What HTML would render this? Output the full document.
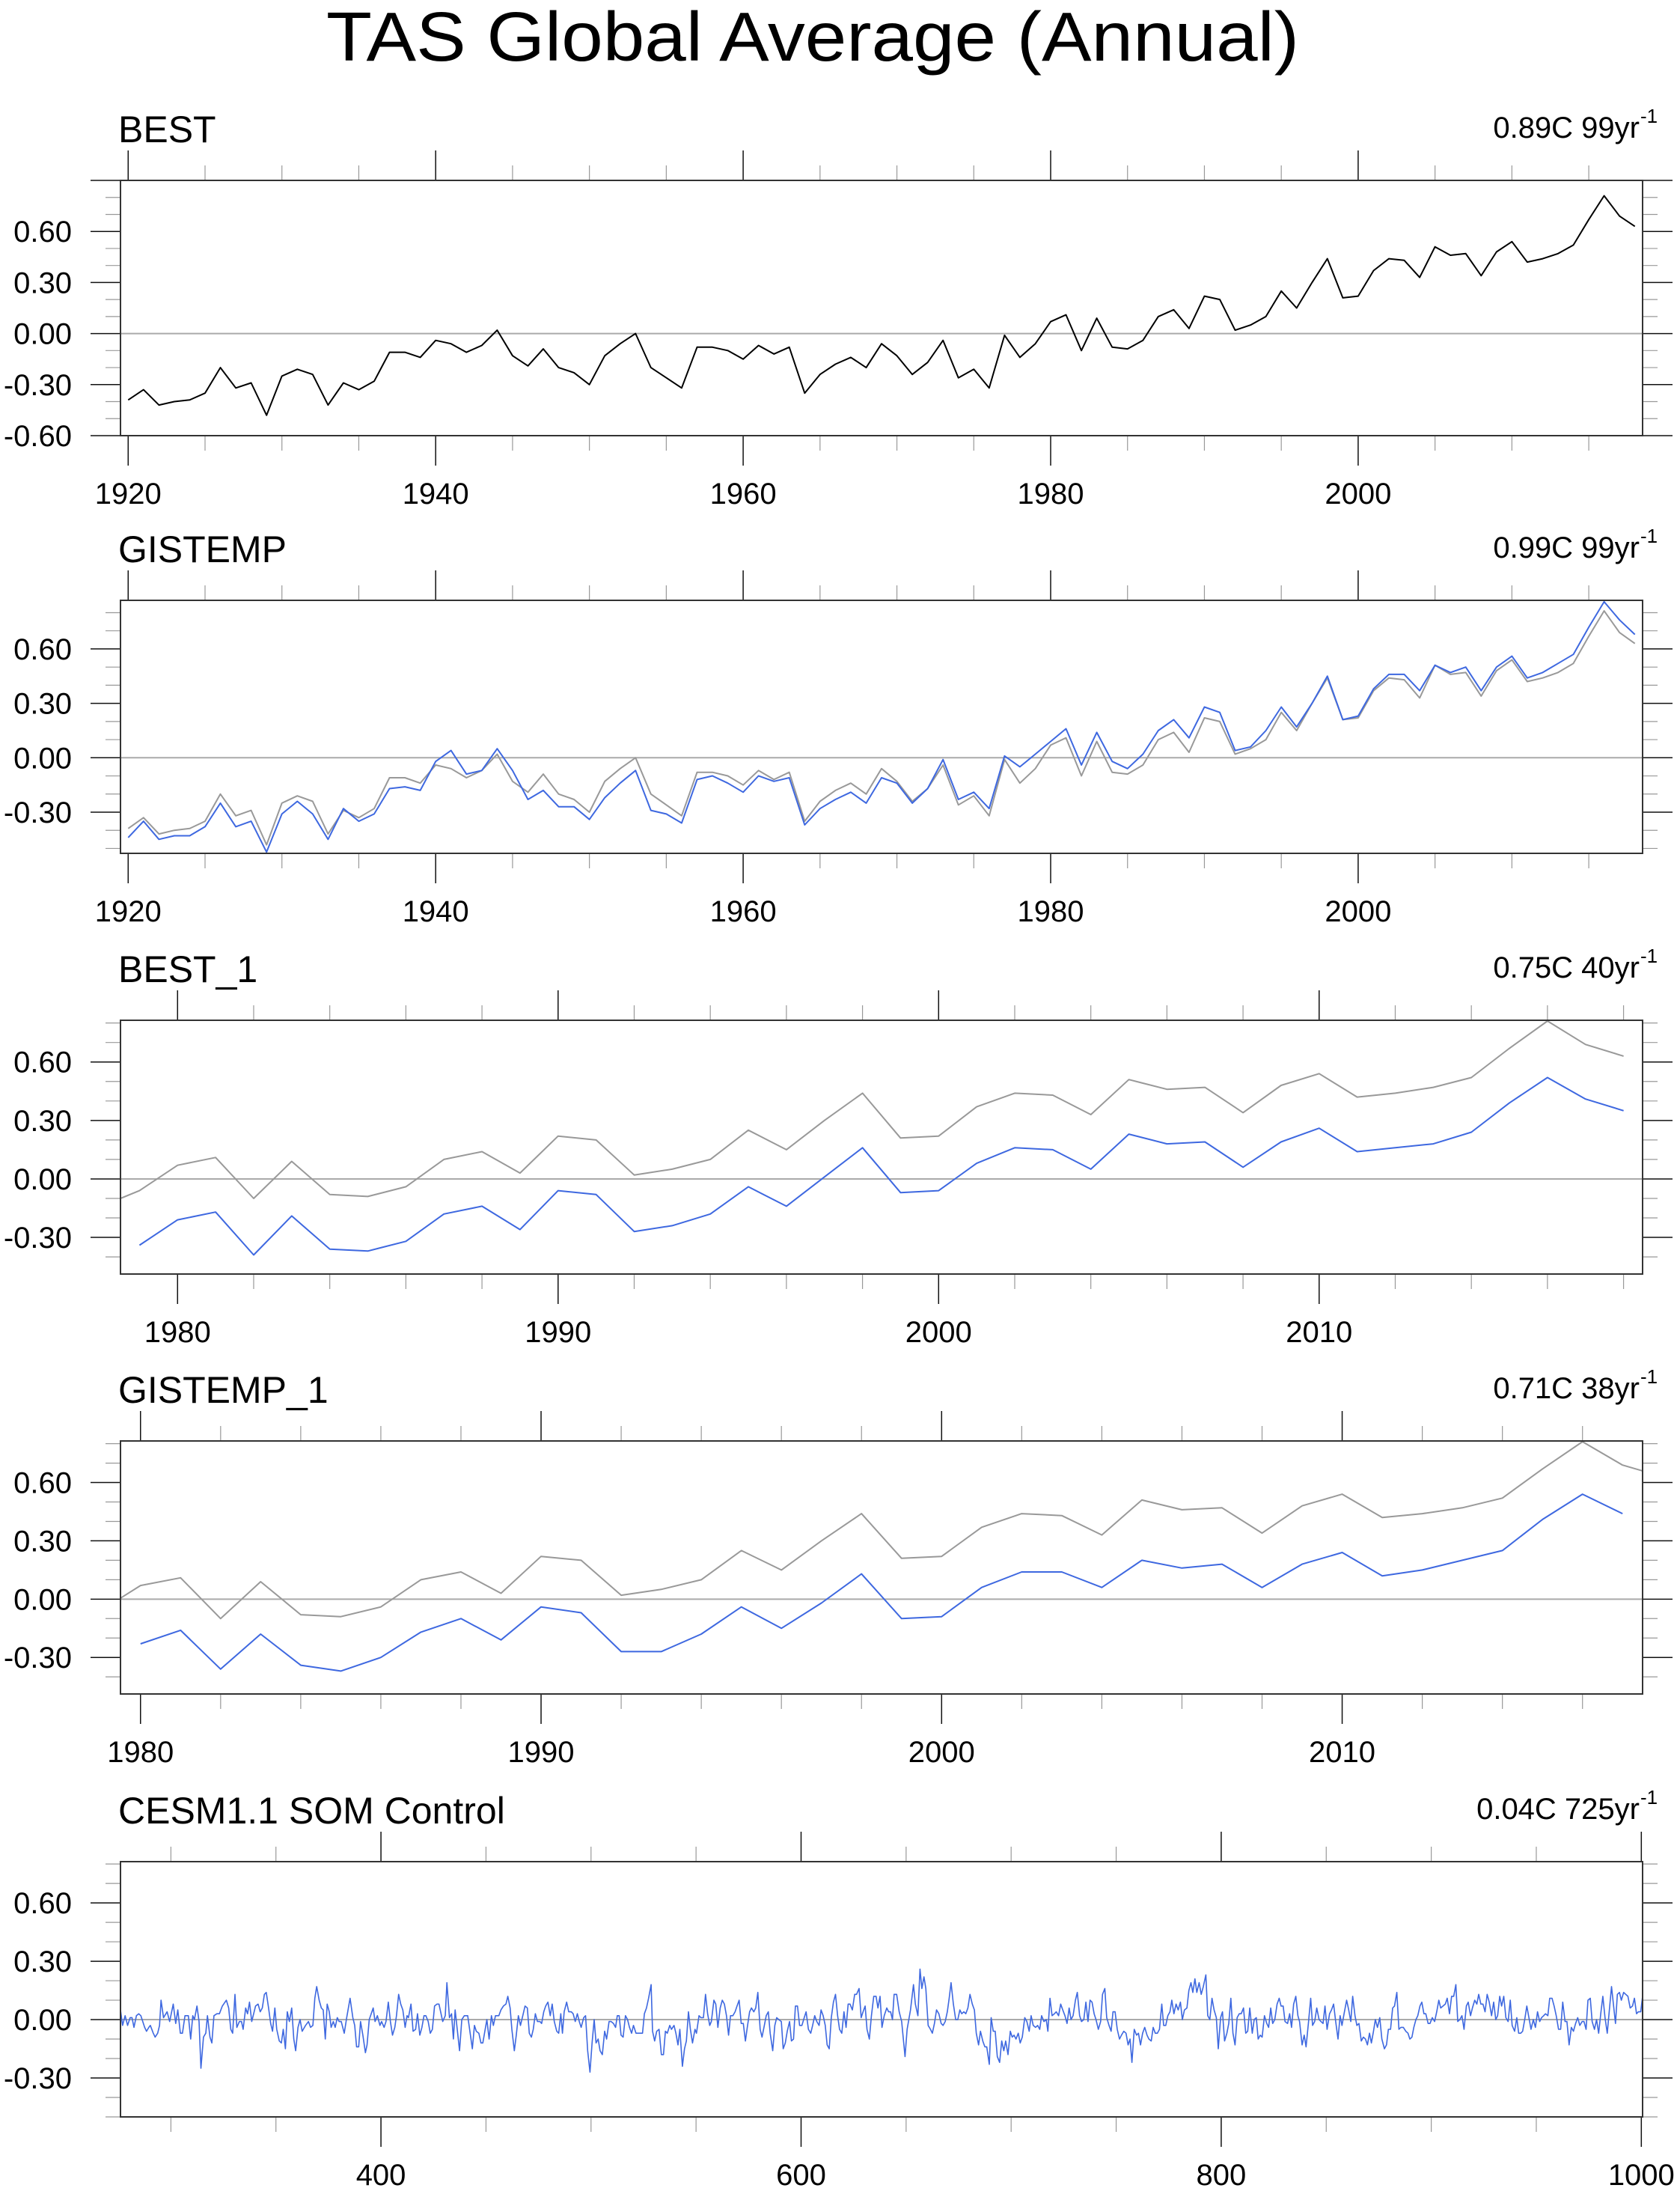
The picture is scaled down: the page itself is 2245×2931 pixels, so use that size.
<!DOCTYPE html>
<html><head><meta charset="utf-8">
<style>
html,body{margin:0;padding:0;background:#fff;}
svg{display:block;font-family:"Liberation Sans",Arial,sans-serif;}
</style></head>
<body>
<svg id="chart" xmlns="http://www.w3.org/2000/svg" width="2245" height="2931" viewBox="0 0 2245 2931">
<rect x="0" y="0" width="2245" height="2931" fill="#fff"/>
<text x="436" y="81" font-size="93" textLength="1300" lengthAdjust="spacingAndGlyphs">TAS Global Average (Annual)</text>
</svg>
<script>
// ---- data ----
const bestStart = 1920;
const bestValues = [
-0.39,-0.33,-0.42,-0.40,-0.39,-0.35,-0.20,-0.32,-0.29,-0.48,
-0.25,-0.21,-0.24,-0.42,-0.29,-0.33,-0.28,-0.11,-0.11,-0.14,
-0.04,-0.06,-0.11,-0.07,0.02,-0.13,-0.19,-0.09,-0.20,-0.23,
-0.30,-0.13,-0.06,0.00,-0.20,-0.26,-0.32,-0.08,-0.08,-0.10,
-0.15,-0.07,-0.12,-0.08,-0.35,-0.24,-0.18,-0.14,-0.20,-0.06,
-0.13,-0.24,-0.17,-0.04,-0.26,-0.21,-0.32,-0.01,-0.14,-0.06,
0.07,0.11,-0.10,0.09,-0.08,-0.09,-0.04,0.10,0.14,0.03,
0.22,0.20,0.02,0.05,0.10,0.25,0.15,0.30,0.44,0.21,
0.22,0.37,0.44,0.43,0.33,0.51,0.46,0.47,0.34,0.48,
0.54,0.42,0.44,0.47,0.52,0.67,0.81,0.69,0.63];
const gisStart = 1920;
const gisValues = [
-0.44,-0.35,-0.45,-0.43,-0.43,-0.38,-0.25,-0.38,-0.35,-0.52,
-0.31,-0.24,-0.31,-0.45,-0.28,-0.35,-0.31,-0.17,-0.16,-0.18,
-0.02,0.04,-0.09,-0.07,0.05,-0.07,-0.23,-0.18,-0.27,-0.27,
-0.34,-0.22,-0.14,-0.07,-0.29,-0.31,-0.36,-0.12,-0.10,-0.14,
-0.19,-0.10,-0.13,-0.11,-0.37,-0.28,-0.23,-0.19,-0.25,-0.11,
-0.14,-0.25,-0.17,-0.01,-0.23,-0.19,-0.28,0.01,-0.05,0.02,
0.09,0.16,-0.04,0.14,-0.02,-0.06,0.02,0.15,0.21,0.11,
0.28,0.25,0.04,0.06,0.15,0.28,0.17,0.30,0.45,0.21,
0.23,0.38,0.46,0.46,0.37,0.51,0.47,0.50,0.37,0.50,
0.56,0.44,0.47,0.52,0.57,0.72,0.86,0.76,0.68];
const best1Start = 1979;
const best1Values = [
-0.34,
-0.21,-0.17,-0.39,-0.19,-0.36,-0.37,-0.32,-0.18,-0.14,-0.26,
-0.06,-0.08,-0.27,-0.24,-0.18,-0.04,-0.14,0.01,0.16,-0.07,
-0.06,0.08,0.16,0.15,0.05,0.23,0.18,0.19,0.06,0.19,
0.26,0.14,0.16,0.18,0.24,0.39,0.52,0.41,0.35];
const gis1Start = 1980;
const gis1Values = [
-0.23,-0.16,-0.36,-0.18,-0.34,-0.37,-0.30,-0.17,-0.10,-0.21,
-0.04,-0.07,-0.27,-0.27,-0.18,-0.04,-0.15,-0.02,0.13,-0.10,
-0.09,0.06,0.14,0.14,0.06,0.20,0.16,0.18,0.06,0.18,
0.24,0.12,0.15,0.20,0.25,0.41,0.54,0.44];
const somYears = [
276,277,278.2,279.4,280.6,281.5,282.4,283.6,284.7,285.7,287.5,288.4,289.5,290.2,291.6,292.5,293.7,294.6,295.3,296.5,298.2,299.4,301.1,302.3,303.3,304.5,305.5,306.7,308.3,309.4,310.4,311.2,312.4,313.4,314.3,315.5,316.6,317.4,318.6,319.5,320.5,321.9,323.1,324.5,326.4,327.5,328.5,329.4,330.5,331.4,332.6,333.6,334.4,335.6,336.5,337.4,338.5,340.3,341.5,342.5,343.5,344.5,345.4,346.5,347.5,348.4,349.5,350.4,351.6,352.6,353.5,354.5,355.4,356.4,357.5,358.5,359.4,360.5,361.5,362.5,364.1,365.5,366.5,367.6,368.5,369.4,370.6,371.6,372.5,373.5,374.4,375.4,376.3,377.3,378.2,379.2,380.1,381.1,382.5,383.7,385.3,386.6,387.5,388.4,389.4,390.3,391.4,392.6,393.4,394.4,396.3,397.2,398.3,399.5,400.3,401.5,402.4,403.5,404.5,405.5,406.6,407.4,408.4,409.4,410.4,411.5,412.4,413.1,414.3,415.3,416.5,417.4,418.5,419.5,420.5,421.4,422.5,423.5,424.5,425.5,426.7,427.6,429.4,430.6,431.4,432.6,433.6,434.5,435.3,437.4,438.5,439.7,441.3,443.5,444.5,445.4,446.6,447.6,448.5,450.4,451.5,452.6,453.5,454.5,456.1,457.1,458.3,459.5,460.4,
461.5,462.3,463.5,464.4,465.4,466.4,467.5,468.6,469.7,470.6,471.6,472.5,473.5,474.5,475.7,476.5,477.5,478.4,479.5,480.6,481.5,482.5,483.7,484.6,485.6,486.4,487.2,488.4,489.4,490.6,491.5,492.5,493.5,494.4,495.3,496.5,497.4,498.4,499.5,500.5,501.5,502.4,503.4,504.3,505.4,506.5,507.4,508.6,509.6,510.7,511.7,512.5,513.4,514.3,515.3,516.4,517.4,518.3,519.3,520.2,521.4,522.6,523.6,524.5,525.4,526.4,527.4,528.6,529.3,530.3,531.3,532.4,533.5,534.5,535.4,536.3,537.5,538.3,539.5,540.4,541.4,542.3,543.5,544.5,545.4,546.4,547.3,548.3,549.5,550.2,551.4,552.3,553.5,554.5,555.5,556.5,557.3,558.5,559.4,560.4,561.5,562.5,563.5,564.5,565.5,566.4,567.5,568.6,569.5,570.5,571.5,572.5,573.5,574.4,575.5,576.4,577.5,578.4,579.4,580.5,581.4,582.5,583.4,584.4,585.3,586.5,587.5,588.4,589.4,590.6,591.5,592.5,593.4,594.5,595.4,596.4,597.3,598.3,599.3,600.4,601.5,602.4,603.5,604.6,605.5,606.5,607.5,608.6,609.5,610.5,611.5,612.4,613.4,614.4,615.4,616.4,617.4,618.3,619.4,620.4,621.4,622.4,623.3,624.4,625.5,626.4,627.6,628.6,629.5,630.5,631.4,632.5,633.5,634.6,635.7,636.6,637.6,638.5,639.6,640.8,641.7,
642.6,643.5,644.3,645.5,646.7,647.9,649.5,650.5,652.1,653.5,654.4,655.6,656.6,657.5,658.5,659.4,660.5,661.6,662.5,663.5,664.5,665.6,666.7,667.6,668.6,669.6,670.5,671.4,672.5,673.6,674.6,675.6,676.5,677.5,678.4,679.4,680.4,681.5,682.5,683.4,684.5,685.4,686.5,687.5,688.4,689.6,690.5,691.5,692.4,693.4,694.5,695.5,696.5,697.4,698.5,699.6,700.5,701.4,702.3,703.4,704.3,705.3,706.5,707.5,708.6,709.5,710.5,711.6,712.6,713.6,714.5,715.6,716.7,717.5,718.5,719.5,720.6,721.5,722.6,723.6,724.6,725.6,726.6,727.6,728.5,729.5,730.6,731.5,732.6,733.5,734.6,735.6,736.6,737.6,738.5,739.5,740.4,741.5,742.6,743.5,744.6,745.5,746.6,747.6,748.5,749.5,750.5,751.6,752.5,753.6,754.7,755.7,756.6,757.5,758.6,759.7,760.6,761.6,762.6,763.6,764.7,765.6,766.7,767.6,768.6,769.6,770.6,771.7,772.6,773.6,774.6,775.6,776.5,777.5,778.5,779.5,780.6,781.5,782.5,783.7,784.6,785.6,786.5,787.5,788.4,789.5,790.5,791.5,792.7,793.6,794.6,795.6,796.6,797.7,798.6,799.7,800.6,801.6,802.7,803.6,804.6,805.6,806.6,807.6,808.6,809.5,810.6,811.7,812.6,813.6,814.8,815.7,816.7,817.6,818.6,819.5,820.6,
821.7,822.6,823.6,824.5,825.5,826.6,827.6,828.5,829.5,830.4,831.6,832.6,833.5,834.5,835.5,836.5,837.3,838.5,839.5,840.4,841.5,842.6,843.5,844.5,845.5,846.6,847.5,848.5,849.4,850.4,851.6,852.5,853.5,854.5,855.6,856.6,857.5,858.5,859.7,860.7,861.7,862.6,863.7,864.6,865.6,866.7,867.7,868.7,869.6,870.6,871.5,872.5,873.4,874.4,875.5,876.5,877.7,878.7,879.6,880.6,881.6,882.5,883.6,884.6,885.5,886.7,887.9,888.9,889.8,890.8,891.7,892.7,893.6,894.6,895.5,896.5,897.4,898.5,899.4,900.5,901.6,902.6,903.6,904.5,905.6,906.7,907.6,908.7,909.7,910.7,911.7,912.6,913.6,914.6,915.6,916.7,917.6,918.7,919.6,920.7,921.7,922.6,923.6,924.6,925.6,926.6,927.6,928.7,929.7,930.7,931.6,932.6,933.5,934.5,935.5,936.6,937.6,938.5,939.7,940.7,941.6,942.6,943.5,944.5,945.5,946.5,947.5,948.6,949.6,950.6,951.6,952.5,953.5,954.4,955.5,956.4,957.5,958.5,959.5,960.6,961.6,962.6,963.7,964.6,965.6,966.7,967.7,968.7,969.7,970.7,971.8,972.7,973.7,974.6,975.7,976.6,977.7,978.7,979.7,980.7,981.7,982.7,983.8,984.7,985.8,986.7,987.7,988.6,989.6,990.5,991.6,992.6,993.6,994.7,995.8,996.7,997.7,998.6,999.7,1000.6];
const somValues = [
0.05,-0.03,0.02,-0.03,0.01,0.01,-0.04,0.02,0.03,0.02,-0.04,-0.06,-0.04,-0.03,-0.07,-0.09,-0.07,-0.03,0.10,0.01,0.04,-0.01,0.08,-0.02,0.05,-0.07,-0.07,0.02,0.02,-0.10,0.02,0.00,0.07,-0.01,-0.25,-0.09,-0.07,0.02,-0.09,-0.12,0.02,0.03,0.03,0.07,0.10,0.06,-0.05,-0.07,0.13,-0.04,-0.01,-0.01,-0.05,0.06,0.03,0.09,-0.01,0.07,0.08,0.04,0.06,0.13,0.14,0.06,-0.02,-0.06,0.06,-0.05,-0.11,-0.12,-0.05,-0.15,0.04,-0.01,0.06,-0.10,-0.16,-0.04,0.00,-0.06,-0.03,-0.01,-0.04,-0.03,0.11,0.17,0.10,0.06,0.05,-0.10,0.08,0.04,-0.04,-0.01,-0.04,0.01,-0.01,-0.01,-0.07,0.01,0.11,0.01,-0.03,-0.14,-0.14,-0.01,-0.08,-0.17,-0.13,0.00,0.06,-0.01,0.02,-0.03,-0.01,-0.04,-0.01,0.09,-0.01,-0.08,-0.04,0.02,0.13,0.08,0.05,-0.04,0.02,0.01,0.08,-0.06,-0.05,0.03,-0.08,-0.04,0.02,0.02,-0.01,-0.07,-0.05,0.07,0.08,0.08,-0.01,0.02,0.19,0.01,0.03,-0.10,0.05,-0.16,0.00,0.02,0.02,-0.15,-0.03,-0.06,-0.07,-0.12,-0.12,0.00,-0.10,0.02,-0.03,0.02,0.02,0.05,0.07,0.08,0.12,
0.06,-0.05,-0.16,-0.08,0.02,-0.03,0.02,0.07,0.06,-0.07,-0.09,-0.05,0.03,-0.01,-0.01,-0.02,0.04,0.07,0.09,0.02,0.08,-0.01,-0.06,-0.07,0.03,-0.07,0.04,0.09,0.04,0.04,0.03,-0.01,0.03,-0.01,-0.04,0.01,0.02,-0.16,-0.27,-0.12,0.00,-0.12,-0.10,-0.16,-0.18,-0.06,-0.10,-0.01,-0.01,-0.02,-0.04,0.02,0.02,-0.08,-0.09,0.02,0.00,-0.04,-0.07,-0.03,-0.07,-0.07,-0.07,-0.07,0.03,0.06,0.11,0.18,-0.06,-0.11,-0.06,-0.05,-0.18,-0.18,-0.06,-0.07,-0.03,-0.05,-0.03,-0.07,-0.13,-0.05,-0.24,-0.15,-0.11,0.04,-0.05,-0.12,-0.05,-0.07,0.02,0.01,0.01,0.13,0.03,-0.03,-0.01,0.10,0.08,-0.04,0.06,0.10,0.08,0.02,-0.08,0.02,0.02,0.04,0.07,0.10,-0.02,-0.02,-0.11,-0.04,0.04,0.06,0.04,0.06,0.14,-0.05,-0.09,-0.03,0.02,0.04,-0.07,-0.16,-0.03,0.01,0.00,-0.01,-0.15,-0.12,-0.06,-0.01,-0.11,-0.10,0.07,0.07,-0.03,-0.03,0.01,0.04,-0.05,-0.07,-0.03,0.02,-0.01,-0.03,0.05,0.02,-0.03,-0.13,-0.15,0.01,0.09,0.13,0.02,-0.05,-0.07,0.04,-0.04,0.08,0.08,0.05,0.13,0.13,0.16,0.01,0.04,0.07,-0.05,-0.10,0.02,0.12,0.12,0.06,0.12,-0.04,0.02,0.06,0.04,
0.04,0.00,0.13,0.13,0.04,-0.01,-0.19,-0.05,0.05,0.18,0.08,0.02,0.26,0.16,0.22,0.16,-0.03,-0.05,-0.07,-0.02,0.05,0.03,-0.02,-0.03,-0.01,0.04,0.11,0.19,0.08,0.00,0.00,0.05,0.03,0.04,0.03,0.06,0.13,0.08,0.05,-0.07,-0.13,-0.06,-0.11,-0.14,-0.14,-0.23,0.01,-0.06,-0.06,-0.19,-0.22,-0.11,-0.16,-0.11,-0.18,-0.06,-0.09,-0.08,-0.10,-0.07,-0.12,-0.09,0.01,-0.01,-0.06,0.02,-0.03,-0.04,-0.03,-0.05,0.02,-0.01,0.00,-0.06,0.11,0.02,0.03,0.04,0.02,0.08,0.05,0.02,-0.02,0.06,0.00,0.02,0.10,0.14,0.02,-0.01,0.00,0.09,-0.01,0.10,0.09,0.03,0.00,-0.05,-0.01,0.13,0.16,0.01,-0.03,-0.06,0.04,0.04,-0.05,-0.10,-0.08,-0.06,-0.07,-0.13,-0.10,-0.22,-0.05,-0.08,-0.07,-0.13,-0.07,-0.04,-0.08,-0.10,-0.11,-0.04,-0.07,-0.07,-0.05,0.08,-0.03,-0.03,0.02,0.04,0.10,0.03,0.08,0.05,0.09,0.00,0.05,0.06,0.15,0.19,0.14,0.21,0.14,0.19,0.13,0.17,0.23,0.02,0.00,0.11,0.05,0.01,-0.15,0.01,0.04,-0.11,-0.07,-0.02,0.11,-0.07,-0.13,0.01,0.03,0.03,0.06,-0.07,-0.06,0.06,-0.07,0.00,0.01,-0.10,-0.08,-0.09,0.02,
-0.02,-0.04,0.06,-0.02,0.00,0.08,0.11,0.07,0.07,-0.01,-0.02,0.03,-0.04,0.08,0.12,0.02,-0.01,-0.13,-0.08,-0.14,-0.02,0.11,-0.03,-0.01,0.06,0.00,-0.01,-0.02,0.07,-0.05,0.03,0.05,0.08,-0.01,-0.10,0.02,-0.03,0.03,0.10,0.05,-0.01,0.12,0.02,-0.03,-0.02,-0.11,-0.09,-0.10,-0.13,-0.07,-0.12,-0.06,0.00,-0.04,0.01,-0.10,-0.15,-0.13,-0.05,-0.05,0.06,0.07,0.14,-0.05,-0.04,-0.04,-0.06,-0.07,-0.10,-0.09,-0.04,0.00,0.02,0.07,0.09,0.03,0.03,-0.02,-0.02,0.01,-0.01,0.04,0.10,0.06,0.07,0.08,0.11,0.03,0.12,0.12,0.18,-0.01,0.00,0.02,-0.05,0.07,0.09,0.02,0.06,0.10,0.08,0.13,0.08,0.08,0.04,0.13,0.09,0.02,0.09,0.00,0.02,0.12,0.07,0.12,0.01,-0.01,0.10,-0.03,-0.06,0.01,-0.07,-0.07,-0.06,0.00,0.07,0.01,-0.05,0.00,-0.04,0.04,-0.01,0.01,0.02,0.03,0.02,0.11,0.11,0.07,0.02,-0.05,-0.05,0.09,-0.01,-0.01,-0.13,-0.04,-0.06,-0.02,0.01,-0.03,-0.01,-0.01,-0.05,0.10,0.11,-0.01,-0.05,0.00,-0.07,0.03,0.12,0.01,-0.07,0.04,0.17,0.08,-0.02,0.13,0.14,0.10,0.14,0.13,0.12,0.06,0.07,0.11,0.03,0.04,0.04,0.12];

// ---- drawing ----
const svg = document.getElementById('chart');
const NS = 'http://www.w3.org/2000/svg';
const BOX_L = 161, BOX_R = 2195;
function seq(start, n){ const a=[]; for(let i=0;i<n;i++) a.push(start+i); return a; }
function el(tag, attrs, parent){ const e=document.createElementNS(NS,tag); for(const k in attrs) e.setAttribute(k, attrs[k]); (parent||svg).appendChild(e); return e; }

const panels = [
 {id:'best', top:241, bot:582, x0:1919.5, x1:2018.5, y0:-0.6, y1:0.9, xMaj:20, xMin:5, title:'BEST', trend:'0.89C 99yr',
  series:[{n:'best-line', x:seq(bestStart,bestValues.length), y:bestValues, c:'#000', w:2}]},
 {id:'gistemp', top:802, bot:1140, x0:1919.5, x1:2018.5, y0:-0.527, y1:0.868, xMaj:20, xMin:5, title:'GISTEMP', trend:'0.99C 99yr',
  series:[{n:'best-reference-line', x:seq(bestStart,bestValues.length), y:bestValues, c:'#999', w:2},
          {n:'gistemp-line', x:seq(gisStart,gisValues.length), y:gisValues, c:'#3e68e0', w:2}]},
 {id:'best-1', top:1363, bot:1702, x0:1978.5, x1:2018.5, y0:-0.488, y1:0.814, xMaj:10, xMin:2, title:'BEST_1', trend:'0.75C 40yr',
  series:[{n:'best-reference-line', x:seq(bestStart,bestValues.length), y:bestValues, c:'#999', w:2},
          {n:'best-1-line', x:seq(best1Start,best1Values.length), y:best1Values, c:'#3e68e0', w:2}]},
 {id:'gistemp-1', top:1925, bot:2263, x0:1979.5, x1:2017.5, y0:-0.488, y1:0.814, xMaj:10, xMin:2, title:'GISTEMP_1', trend:'0.71C 38yr',
  series:[{n:'best-reference-line', x:seq(bestStart,bestValues.length), y:bestValues, c:'#999', w:2},
          {n:'gistemp-1-line', x:seq(gis1Start,gis1Values.length), y:gis1Values, c:'#3e68e0', w:2}]},
 {id:'cesm', top:2487, bot:2828, x0:276, x1:1000.6, y0:-0.5, y1:0.812, xMaj:200, xMin:50, title:'CESM1.1 SOM Control', trend:'0.04C 725yr',
  series:[{n:'cesm-control-line', x:somYears, y:somValues, c:'#3e68e0', w:1.6}]}
];

panels.forEach(function(p, pi){
  const g = el('g', {});
  
  
  const sx = v => BOX_L + (v - p.x0) / (p.x1 - p.x0) * (BOX_R - BOX_L);
  const sy = v => p.bot - (v - p.y0) / (p.y1 - p.y0) * (p.bot - p.top);

  const t = el('text', {x:158, y:p.top-51, 'font-size':50}, g);
  t.textContent = p.title;
  
  
  const tr = el('text', {x:2191, y:p.top-57, 'font-size':40, 'text-anchor':'end'}, g);
  tr.textContent = p.trend;
  
  
  const sup = el('text', {x:2192, y:p.top-77, 'font-size':26}, g);
  sup.textContent = '-1';
  
  

  // x ticks
  const xs = Math.ceil(p.x0 / p.xMin) * p.xMin;
  for (let v = xs; v <= p.x1 + 1e-9; v += p.xMin) {
    const X = sx(v);
    const major = Math.abs(v / p.xMaj - Math.round(v / p.xMaj)) < 1e-6;
    const len = major ? 40 : 20;
    const col = major ? '#111' : '#999';
    const sw = major ? 1.5 : 1.2;
    const tt = el('line', {x1:X, x2:X, y1:p.top, y2:p.top-len, stroke:col, 'stroke-width':sw}, g);
    
    
    const tb = el('line', {x1:X, x2:X, y1:p.bot, y2:p.bot+len, stroke:col, 'stroke-width':sw}, g);
    
    
    if (major) {
      const lb = el('text', {x:X, y:p.bot+91, 'font-size':40, 'text-anchor':'middle'}, g);
      lb.textContent = String(Math.round(v));
      
      
    }
  }
  // y ticks
  const ys = Math.ceil(p.y0 * 10 - 1e-6);
  for (let k = ys; k / 10 <= p.y1 + 1e-6; k++) {
    const v = k / 10, Y = sy(v);
    const major = (k % 3 === 0);
    const len = major ? 40 : 20;
    const col = major ? '#111' : '#999';
    const sw = major ? 1.5 : 1.2;
    const tl = el('line', {x1:BOX_L, x2:BOX_L-len, y1:Y, y2:Y, stroke:col, 'stroke-width':sw}, g);
    
    
    const trr = el('line', {x1:BOX_R, x2:BOX_R+len, y1:Y, y2:Y, stroke:col, 'stroke-width':sw}, g);
    
    
    if (major && v < p.y1 - 0.02) {
      const lb = el('text', {x:96, y:Y+14, 'font-size':40, 'text-anchor':'end'}, g);
      lb.textContent = v.toFixed(2);
      
      
    }
  }
  // zero line
  const z = el('line', {x1:BOX_L, x2:BOX_R, y1:sy(0), y2:sy(0), stroke:'#aaa', 'stroke-width':2}, g);
  
  

  // clip
  const cp = el('clipPath', {id:'clip'+pi}, g);
  el('rect', {x:BOX_L, y:p.top, width:BOX_R-BOX_L, height:p.bot-p.top}, cp);

  p.series.forEach(function(s){
    let d = '';
    for (let i = 0; i < s.x.length; i++) {
      d += (i ? 'L' : 'M') + sx(s.x[i]).toFixed(1) + ',' + sy(s.y[i]).toFixed(1);
    }
    const path = el('path', {d:d, fill:'none', stroke:s.c, 'stroke-width':s.w, 'stroke-linejoin':'round', 'clip-path':'url(#clip'+pi+')'}, g);
    
    
  });

  const box = el('rect', {x:BOX_L, y:p.top, width:BOX_R-BOX_L, height:p.bot-p.top, fill:'none', stroke:'#333', 'stroke-width':2}, g);
  
  
});
</script>
</body></html>
